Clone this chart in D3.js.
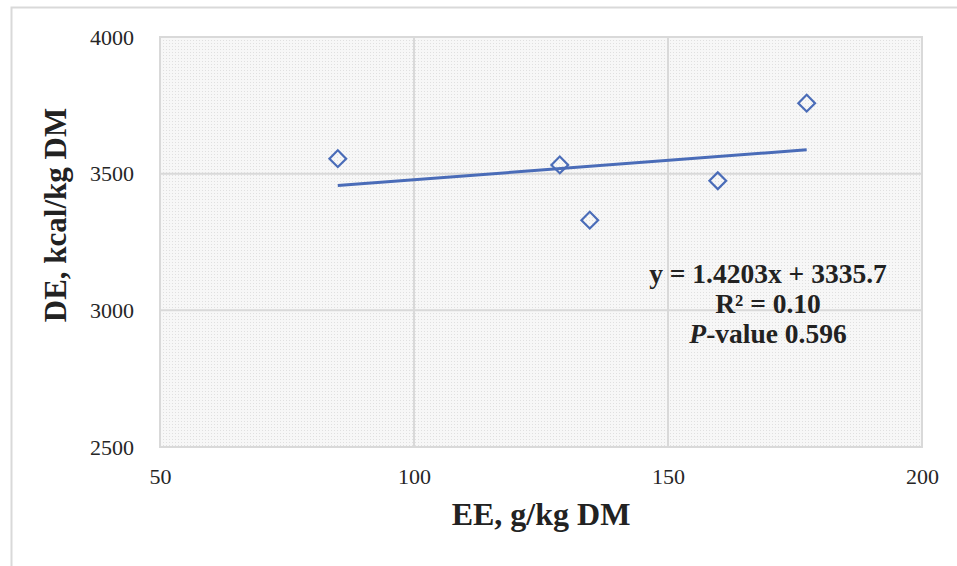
<!DOCTYPE html>
<html>
<head>
<meta charset="utf-8">
<script src="https://cdn.jsdelivr.net/npm/d3@7"></script>
<style>
  html, body { margin: 0; padding: 0; background: #fff; }
  svg { display: block; }
</style>
</head>
<body>
<div id="chart"></div>
<script>
// 数据
const eeValues = [85, 128.7, 134.6, 159.8, 177.3];
const deValues = [3555, 3532, 3330, 3474, 3758];
const xTicks = [50, 100, 150, 200];
const yTicks = [2500, 3000, 3500, 4000];
const slope = 1.4203;
const intercept = 3335.7;
const annotationLines = ['y = 1.4203x + 3335.7', 'R² = 0.10', 'P-value 0.596'];

const width = 957, height = 566;
const margin = { left: 160, top: 37, right: 35, bottom: 119 };
const plotW = width - margin.left - margin.right;
const plotH = height - margin.top - margin.bottom;
const serif = '"Liberation Serif", "Times New Roman", serif';

const svg = d3.select('#chart')
  .append('svg')
  .attr('width', width)
  .attr('height', height);

// 外框
svg.append('rect')
  .attr('x', 11.5).attr('y', 7.5)
  .attr('width', 1000).attr('height', 700)
  .attr('fill', 'none')
  .attr('stroke', '#d9d9d9')
  .attr('stroke-width', 2);

// 点状底纹
const defs = svg.append('defs');
const pat = defs.append('pattern')
  .attr('id', 'dots')
  .attr('width', 3).attr('height', 3)
  .attr('patternUnits', 'userSpaceOnUse');
pat.append('rect').attr('width', 3).attr('height', 3).attr('fill', '#f7f7f7');
pat.append('rect').attr('width', 1).attr('height', 1).attr('fill', '#e0e0e0');

const xScale = d3.scaleLinear().domain([50, 200]).range([0, plotW]);
const yScale = d3.scaleLinear().domain([2500, 4000]).range([plotH, 0]);

const g = svg.append('g')
  .attr('transform', `translate(${margin.left},${margin.top})`);

g.append('rect')
  .attr('width', plotW).attr('height', plotH)
  .attr('fill', 'url(#dots)');

// 网格线
g.append('g')
  .selectAll('line.vgrid')
  .data(xTicks)
  .enter()
  .append('line')
  .attr('x1', d => xScale(d)).attr('x2', d => xScale(d))
  .attr('y1', 0).attr('y2', plotH)
  .attr('stroke', '#d9d9d9')
  .attr('stroke-width', 2);

g.append('g')
  .selectAll('line.hgrid')
  .data(yTicks)
  .enter()
  .append('line')
  .attr('x1', 0).attr('x2', plotW)
  .attr('y1', d => yScale(d)).attr('y2', d => yScale(d))
  .attr('stroke', '#d9d9d9')
  .attr('stroke-width', 2);

g.append('rect')
  .attr('width', plotW).attr('height', plotH)
  .attr('fill', 'none')
  .attr('stroke', '#d9d9d9')
  .attr('stroke-width', 2);

// 坐标轴
const xAxis = g.append('g')
  .attr('transform', `translate(0,${plotH + 18})`)
  .call(d3.axisBottom(xScale).tickValues(xTicks).tickSize(0).tickFormat(d3.format('d')));
xAxis.select('.domain').remove();
xAxis.selectAll('text')
  .attr('font-family', serif)
  .attr('font-size', 22)
  .attr('fill', '#262626');

const yAxis = g.append('g')
  .attr('transform', 'translate(-23,0)')
  .call(d3.axisLeft(yScale).tickValues(yTicks).tickSize(0).tickFormat(d3.format('d')));
yAxis.select('.domain').remove();
yAxis.selectAll('text')
  .attr('font-family', serif)
  .attr('font-size', 22)
  .attr('fill', '#262626');

// 趋势线
const [xMin, xMax] = d3.extent(eeValues);
g.append('line')
  .attr('x1', xScale(xMin)).attr('y1', yScale(slope * xMin + intercept))
  .attr('x2', xScale(xMax)).attr('y2', yScale(slope * xMax + intercept))
  .attr('stroke', '#4a6cb8')
  .attr('stroke-width', 3);

// 数据点（菱形）
const points = eeValues.map((x, i) => ({ x, y: deValues[i] }));
g.append('g')
  .selectAll('path')
  .data(points)
  .enter()
  .append('path')
  .attr('d', d3.symbol().type(d3.symbolSquare).size(140))
  .attr('transform', d => `translate(${xScale(d.x)},${yScale(d.y)}) rotate(45)`)
  .attr('fill', 'none')
  .attr('stroke', '#4a6cb8')
  .attr('stroke-width', 2.2);

// 注释
const ann = svg.append('text')
  .attr('font-family', serif)
  .attr('font-size', 27.5)
  .attr('font-weight', 'bold')
  .attr('fill', '#222')
  .attr('text-anchor', 'middle');
ann.append('tspan').attr('x', 768).attr('y', 283).text(annotationLines[0]);
ann.append('tspan').attr('x', 768).attr('y', 313).text(annotationLines[1]);
const t3 = ann.append('tspan').attr('x', 768).attr('y', 343);
t3.append('tspan').attr('font-style', 'italic').text(annotationLines[2].slice(0, 1));
t3.append('tspan').text(annotationLines[2].slice(1));

// 轴标题
svg.append('text')
  .attr('x', margin.left + plotW / 2)
  .attr('y', 525)
  .attr('text-anchor', 'middle')
  .attr('font-family', serif)
  .attr('font-size', 32)
  .attr('font-weight', 'bold')
  .attr('fill', '#222')
  .text('EE, g/kg DM');

svg.append('text')
  .attr('transform', 'translate(66,215) rotate(-90)')
  .attr('text-anchor', 'middle')
  .attr('font-family', serif)
  .attr('font-size', 31)
  .attr('font-weight', 'bold')
  .attr('fill', '#222')
  .text('DE, kcal/kg DM');
</script>
</body>
</html>
